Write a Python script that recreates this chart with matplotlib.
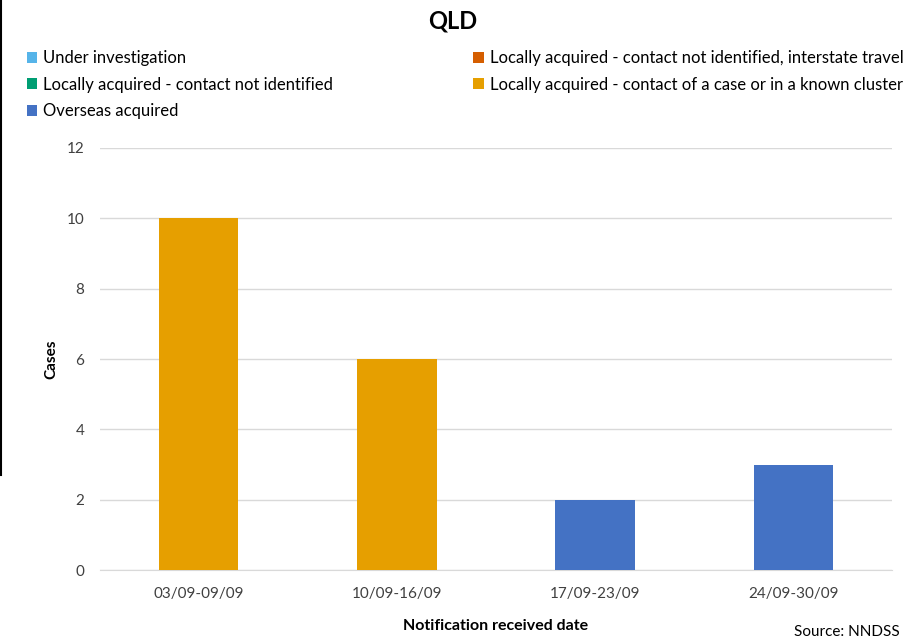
import matplotlib
matplotlib.use("Agg")
import matplotlib.pyplot as plt
from matplotlib.patches import Patch
from matplotlib.lines import Line2D
import numpy as np

plt.rcParams['font.family'] = ['Lato', 'DejaVu Sans']

categories = ["03/09-09/09", "10/09-16/09", "17/09-23/09", "24/09-30/09"]
series_names = [
    "Under investigation",
    "Locally acquired - contact not identified",
    "Overseas acquired",
    "Locally acquired - contact not identified, interstate travel",
    "Locally acquired - contact of a case or in a known cluster",
]
series_colors = ["#56B4E9", "#009E73", "#4472C4", "#D55E00", "#E69F00"]
under_investigation = [0, 0, 0, 0]
local_not_identified = [0, 0, 0, 0]
overseas = [0, 0, 2, 3]
local_interstate = [0, 0, 0, 0]
local_contact = [10, 6, 0, 0]
yticks = [0, 2, 4, 6, 8, 10, 12]

fig = plt.figure(figsize=(9.06, 6.42), dpi=100)
ax = fig.add_axes([0.110, 0.112, 0.875, 0.6575])

x = np.arange(len(categories))
stack_order = [
    (local_contact, series_colors[4]),
    (local_interstate, series_colors[3]),
    (local_not_identified, series_colors[1]),
    (under_investigation, series_colors[0]),
    (overseas, series_colors[2]),
]
bottom = np.zeros(len(categories))
for vals, col in stack_order:
    v = np.array(vals, dtype=float)
    ax.bar(x, v, 0.4, bottom=bottom, color=col, zorder=3)
    bottom += v

ax.set_xlim(-0.5, 3.5)
ax.set_ylim(0, 12)
ax.set_yticks(yticks)
ax.set_xticks(x)
ax.set_xticklabels(categories)
ax.tick_params(axis='both', length=0, labelsize=11, colors='#404040')
ax.tick_params(axis='x', pad=12)
ax.tick_params(axis='y', pad=11)
ax.grid(axis='y', color='#D9D9D9', linewidth=1, zorder=0)
for s in ['top', 'right', 'left']:
    ax.spines[s].set_visible(False)
ax.spines['bottom'].set_color('#D9D9D9')
ax.set_ylabel("Cases", fontsize=11, fontweight='bold', labelpad=6)
ax.set_xlabel("Notification received date", fontsize=11.5, fontweight='bold', labelpad=13)

fig.suptitle("QLD", x=0.5, y=0.985, fontsize=17, fontweight='bold')

handles = [Patch(facecolor=c, edgecolor='none') for c in series_colors]
fig.legend(handles, series_names, loc='upper left', bbox_to_anchor=(0.022, 0.932),
           ncol=2, frameon=False, fontsize=12, handlelength=0.65, handleheight=0.65,
           handletextpad=0.35, columnspacing=8.4, labelspacing=0.62, borderaxespad=0)

fig.text(0.993, 0.005, "Source: NNDSS", ha='right', va='bottom', fontsize=11, color='#000000')
fig.add_artist(Line2D([0.001, 0.001], [1.0, 0.26], color='black', linewidth=1.5,
                      transform=fig.transFigure))

fig.savefig("out.png", dpi=100)
